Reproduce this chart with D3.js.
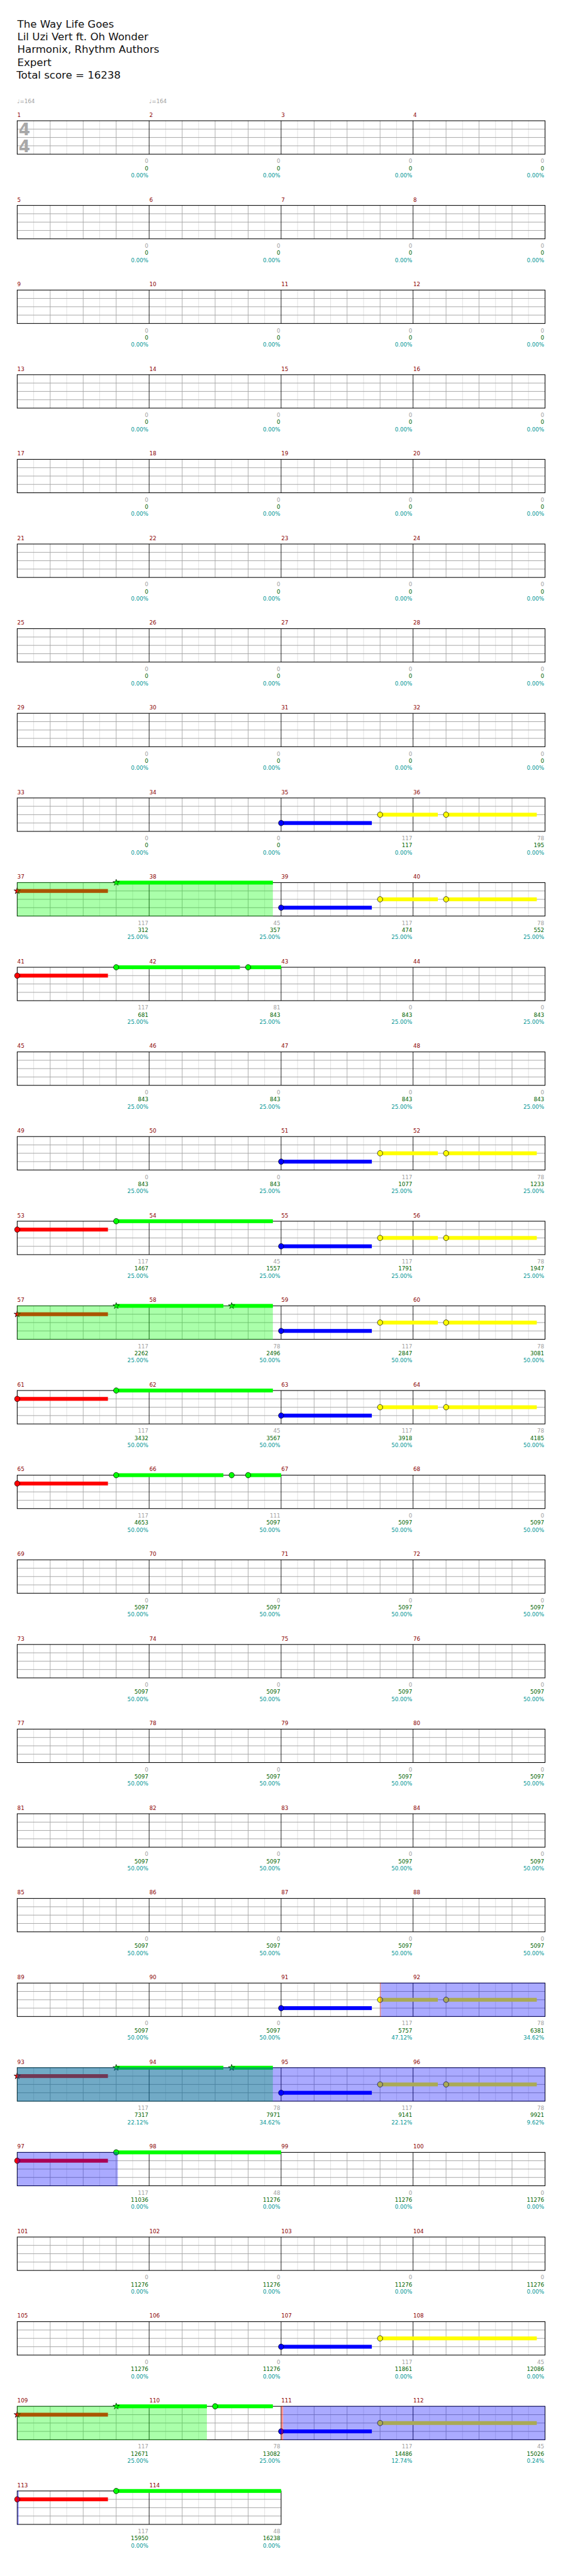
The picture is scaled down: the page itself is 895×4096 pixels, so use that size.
<!DOCTYPE html>
<html><head><meta charset="utf-8">
<script src="https://cdn.jsdelivr.net/npm/d3@7"></script>
<style>html,body{margin:0;padding:0;background:#fff;} svg{display:block;}</style>
</head><body><svg id="chart"></svg>
<script>
// ---------- DATA ----------
const titleLines = ["The Way Life Goes", "Lil Uzi Vert ft. Oh Wonder", "Harmonix, Rhythm Authors", "Expert"];
const totalScoreLabel = "Total score = 16238";
const tempoMarks = [[1, 164], [2, 164]];          // [measure, bpm]
const timeSignature = ["4", "4"];
const measureCount = 114;

// base score per measure (grey)
const measureScore = [
  0,0,0,0, 0,0,0,0, 0,0,0,0, 0,0,0,0, 0,0,0,0, 0,0,0,0, 0,0,0,0, 0,0,0,0,
  0,0,117,78, 117,45,117,78, 117,81,0,0, 0,0,0,0, 0,0,117,78, 117,45,117,78,
  117,78,117,78, 117,45,117,78, 117,111,0,0,
  0,0,0,0, 0,0,0,0, 0,0,0,0, 0,0,0,0, 0,0,0,0,
  0,0,117,78, 117,78,117,78, 117,48,0,0, 0,0,0,0, 0,0,117,45, 117,78,117,45,
  117,48
];
// cumulative score (green)
const cumulativeScore = [
  0,0,0,0, 0,0,0,0, 0,0,0,0, 0,0,0,0, 0,0,0,0, 0,0,0,0, 0,0,0,0, 0,0,0,0,
  0,0,117,195, 312,357,474,552, 681,843,843,843, 843,843,843,843,
  843,843,1077,1233, 1467,1557,1791,1947, 2262,2496,2847,3081,
  3432,3567,3918,4185, 4653,5097,5097,5097,
  5097,5097,5097,5097, 5097,5097,5097,5097, 5097,5097,5097,5097,
  5097,5097,5097,5097, 5097,5097,5097,5097,
  5097,5097,5757,6381, 7317,7971,9141,9921, 11036,11276,11276,11276,
  11276,11276,11276,11276, 11276,11276,11861,12086,
  12671,13082,14486,15026, 15950,16238
];
// percentage (teal)
const percentDone = [
  0,0,0,0, 0,0,0,0, 0,0,0,0, 0,0,0,0, 0,0,0,0, 0,0,0,0, 0,0,0,0, 0,0,0,0,
  0,0,0,0, 25,25,25,25, 25,25,25,25, 25,25,25,25, 25,25,25,25, 25,25,25,25,
  25,50,50,50, 50,50,50,50, 50,50,50,50,
  50,50,50,50, 50,50,50,50, 50,50,50,50, 50,50,50,50, 50,50,50,50,
  50,50,47.12,34.62, 22.12,34.62,22.12,9.62, 0,0,0,0, 0,0,0,0, 0,0,0,0,
  25,25,12.74,0.24, 0,0
];

const laneColors = ["#00ff00", "#ff0000", "#ffff00", "#0000ff", "#ff8000"];
// notes: [measure, beat, lane (0 green .. 3 blue), sustain beats, star (1) / circle (0)]
const notes = [
  [35,0,3,2.75,0],[35,3,2,1.75,0],[36,1,2,2.75,0],
  [37,0,1,2.75,1],[37,3,0,4.75,1],
  [39,0,3,2.75,0],[39,3,2,1.75,0],[40,1,2,2.75,0],
  [41,0,1,2.75,0],[41,3,0,3.75,0],[42,3,0,1,0],
  [51,0,3,2.75,0],[51,3,2,1.75,0],[52,1,2,2.75,0],
  [53,0,1,2.75,0],[53,3,0,4.75,0],
  [55,0,3,2.75,0],[55,3,2,1.75,0],[56,1,2,2.75,0],
  [57,0,1,2.75,1],[57,3,0,3.25,1],[58,2.5,0,1.25,1],
  [59,0,3,2.75,0],[59,3,2,1.75,0],[60,1,2,2.75,0],
  [61,0,1,2.75,0],[61,3,0,4.75,0],
  [63,0,3,2.75,0],[63,3,2,1.75,0],[64,1,2,2.75,0],
  [65,0,1,2.75,0],[65,3,0,3.25,0],[66,2.5,0,0,0],[66,3,0,1,0],
  [91,0,3,2.75,0],[91,3,2,1.75,0],[92,1,2,2.75,0],
  [93,0,1,2.75,1],[93,3,0,3.25,1],[94,2.5,0,1.25,1],
  [95,0,3,2.75,0],[95,3,2,1.75,0],[96,1,2,2.75,0],
  [97,0,1,2.75,0],[97,3,0,5,0],
  [107,0,3,2.75,0],[107,3,2,4.75,0],
  [109,0,1,2.75,1],[109,3,0,2.75,1],[110,2,0,1.75,0],
  [111,0,3,2.75,0],[111,3,2,4.75,0],
  [113,0,1,2.75,0],[113,3,0,5,0]
];
// star-power phrases (green): [startMeasure, startBeat, endMeasure, endBeat]
const overdrivePhrases = [[37,0,38,3.75],[57,0,58,3.75],[93,0,94,3.75],[109,0,110,1.75]];
// activations (blue): [startMeasure, startBeat, redMarkBeats, endMeasure, endBeat]
const activations = [[91,3,0.025,97,3.05],[111,0,0.065,113,0.05]];

// ---------- LAYOUT ----------
const W = 1024, H = 4684;
const svg = d3.select("#chart").attr("width", 895).attr("height", 4096)
  .attr("viewBox", `0 0 ${W} ${H}`);
const FONT = "'DejaVu Sans', Verdana, sans-serif";
const MPR = 4, BPM = 4, BPR = MPR * BPM;
const rowCount = Math.ceil(measureCount / MPR);
const staffH = 60.8;
const x = d3.scaleLinear().domain([0, BPR]).range([31.3, 991.3]);
const laneY = d3.scaleLinear().domain([0, 4]).range([0, staffH]);
const rowTop = d3.scaleLinear().domain([0, 1]).range([218.5, 218.5 + 154]);
const absBeat = (m, b) => (m - 1) * BPM + b;

// font calibration: size so that a sample string reaches a target width
function fitSize(sample, size, target) {
  const t = svg.append("text").attr("font-family", FONT).attr("font-size", size).text(sample);
  const w = t.node().getComputedTextLength();
  t.remove();
  return w > 0 ? size * target / w : size;
}
const titleSize = fitSize("Harmonix, Rhythm Authors", 18.5, 258);
const smallSize = fitSize("25.00%", 10, 38);

// title
const title = svg.append("g").attr("font-family", FONT).attr("font-size", titleSize).attr("fill", "#111");
titleLines.forEach((t, i) => title.append("text").attr("x", 31.5).attr("y", 49 + i * 23.2).text(t));
title.append("text").attr("x", 30).attr("y", 49 + 4 * 23.2).text(totalScoreLabel);

// split a beat range into per-row pieces
function pieces(a, b) {
  const out = [];
  for (let r = Math.floor(a / BPR); r * BPR < b; r++) {
    const s = Math.max(a, r * BPR) - r * BPR, e = Math.min(b, (r + 1) * BPR) - r * BPR;
    const nMeas = Math.min(MPR, measureCount - r * MPR);
    if (e > s) out.push({ r, s, e: Math.min(e, nMeas * BPM) });
  }
  return out;
}

const rows = d3.range(rowCount).map(r => ({ r, n: Math.min(MPR, measureCount - r * MPR) }));
const staffG = svg.append("g");
rows.forEach(({ r, n }) => {
  const g = staffG.append("g").attr("transform", `translate(0,${rowTop(r)})`);
  const subs = d3.range(0, n * BPM * 2 + 1).map(i => i / 2);
  g.selectAll("line.e").data(subs.filter(v => v % 1 !== 0)).join("line")
    .attr("x1", d => x(d)).attr("x2", d => x(d)).attr("y1", 0).attr("y2", staffH)
    .attr("stroke", "#dedede").attr("stroke-width", 1);
  g.selectAll("line.b").data(subs.filter(v => v % 1 === 0 && v % BPM !== 0)).join("line")
    .attr("x1", d => x(d)).attr("x2", d => x(d)).attr("y1", 0).attr("y2", staffH)
    .attr("stroke", "#a4a4a4").attr("stroke-width", 1);
  g.selectAll("line.h").data([1, 2, 3]).join("line")
    .attr("x1", x(0)).attr("x2", x(n * BPM)).attr("y1", d => laneY(d)).attr("y2", d => laneY(d))
    .attr("stroke", "#a4a4a4").attr("stroke-width", 1.1);
  g.selectAll("line.m").data(d3.range(1, n)).join("line")
    .attr("x1", d => x(d * BPM)).attr("x2", d => x(d * BPM)).attr("y1", 0).attr("y2", staffH)
    .attr("stroke", "#000").attr("stroke-width", 1);
  g.append("rect").attr("x", x(0)).attr("y", 0).attr("width", x(n * BPM) - x(0)).attr("height", staffH)
    .attr("fill", "none").attr("stroke", "#000").attr("stroke-width", 1.2);

  // measure numbers and score texts
  d3.range(n).forEach(k => {
    const m = r * MPR + k + 1;
    g.append("text").attr("x", x(k * BPM) + 0.3).attr("y", -7).attr("font-family", FONT)
      .attr("font-size", smallSize).attr("fill", "#8b0000").text(m);
    const xe = x((k + 1) * BPM) - 1.5;
    const t = g.append("g").attr("font-family", FONT).attr("font-size", smallSize).attr("text-anchor", "end");
    t.append("text").attr("x", xe).attr("y", 77).attr("fill", "#a0a0a0").text(measureScore[m - 1]);
    t.append("text").attr("x", xe).attr("y", 90).attr("fill", "#006400").text(cumulativeScore[m - 1]);
    t.append("text").attr("x", xe).attr("y", 103).attr("fill", "#009696").text(percentDone[m - 1].toFixed(2) + "%");
  });
});

// time signature and tempo
const g0 = svg.append("g").attr("transform", `translate(0,${rowTop(0)})`);
timeSignature.forEach((d, i) => g0.append("text").attr("x", 44.5).attr("y", 26.5 + i * 31)
  .attr("text-anchor", "middle").attr("font-family", FONT).attr("font-weight", "bold")
  .attr("font-size", 30).attr("fill", "#a8a8a8").text(d));
tempoMarks.forEach(([m, bpm]) => {
  const bt = absBeat(m, 0);
  svg.append("text").attr("x", x(bt % BPR)).attr("y", rowTop(Math.floor(bt / BPR)) - 32)
    .attr("font-family", FONT).attr("font-size", smallSize).attr("fill", "#a0a0a0").text("\u2669=" + bpm);
});

// notes
const noteG = svg.append("g");
notes.forEach(([m, b, lane, sus]) => {
  const a = absBeat(m, b);
  pieces(a, a + sus).forEach(p => {
    noteG.append("rect").attr("x", x(p.s)).attr("width", x(p.e) - x(p.s))
      .attr("y", rowTop(p.r) + laneY(lane) - 3.5).attr("height", 7).attr("fill", laneColors[lane]);
  });
});
notes.forEach(([m, b, lane, sus, star]) => {
  const a = absBeat(m, b), r = Math.floor(a / BPR);
  const cx = x(a - r * BPR), cy = rowTop(r) + laneY(lane);
  if (star) {
    noteG.append("path").attr("d", d3.symbol().type(d3.symbolStar).size(42)())
      .attr("transform", `translate(${cx},${cy})`).attr("fill", laneColors[lane])
      .attr("stroke", "#000").attr("stroke-width", 0.8);
  } else {
    noteG.append("ellipse").attr("cx", cx).attr("cy", cy).attr("rx", 4.8).attr("ry", 5)
      .attr("fill", laneColors[lane]).attr("stroke", "#000").attr("stroke-width", 0.8);
  }
});

// overlays
const ovG = svg.append("g");
overdrivePhrases.forEach(([m1, b1, m2, b2]) => {
  pieces(absBeat(m1, b1), absBeat(m2, b2)).forEach(p => {
    ovG.append("rect").attr("x", x(p.s)).attr("width", x(p.e) - x(p.s))
      .attr("y", rowTop(p.r) - 0.6).attr("height", staffH + 1.2)
      .attr("fill", "rgb(0,255,0)").attr("fill-opacity", 1 / 3);
  });
});
activations.forEach(([m1, b1, mark, m2, b2]) => {
  const a = absBeat(m1, b1);
  pieces(a, a + mark).forEach(p => {
    ovG.append("rect").attr("x", x(p.s)).attr("width", x(p.e) - x(p.s))
      .attr("y", rowTop(p.r) - 0.6).attr("height", staffH + 1.2)
      .attr("fill", "rgb(255,0,0)").attr("fill-opacity", 0.4);
  });
  pieces(a + mark, absBeat(m2, b2)).forEach(p => {
    ovG.append("rect").attr("x", x(p.s)).attr("width", x(p.e) - x(p.s))
      .attr("y", rowTop(p.r) - 0.6).attr("height", staffH + 1.2)
      .attr("fill", "rgb(0,0,255)").attr("fill-opacity", 1 / 3);
  });
});
</script></body></html>
